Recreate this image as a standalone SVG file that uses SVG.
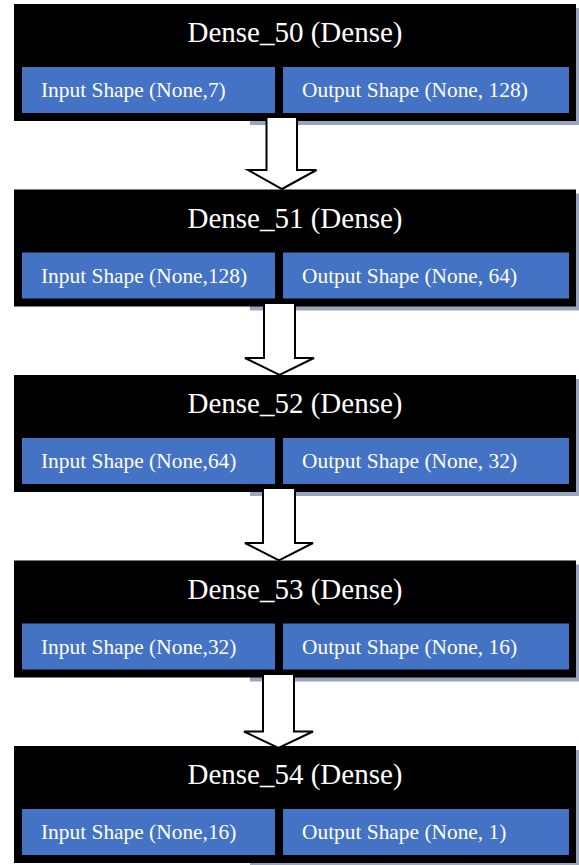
<svg xmlns="http://www.w3.org/2000/svg" width="579" height="865" viewBox="0 0 579 865">
<style>
.blk{fill:#000}
.shd{fill:#9aa4bb}
.box{fill:#4472c4}
.ttl{font-family:"Liberation Serif","Times New Roman",serif;font-size:29px;fill:#fff;text-anchor:middle}
.lbl{font-family:"Liberation Serif","Times New Roman",serif;font-size:21.4px;fill:#fff}
.arr{fill:#fff;stroke:#000;stroke-width:2;stroke-linejoin:miter}
</style>
<rect width="579" height="865" fill="#fff"/>
<g id="dense50">
<rect class="shd" x="250" y="8" width="329" height="117"/>
<rect class="blk" x="14" y="4" width="562" height="117"/>
<text class="ttl" x="295" y="42">Dense_50 (Dense)</text>
<rect class="box" x="22" y="67" width="253" height="46"/>
<rect class="box" x="283" y="67" width="286" height="46"/>
<text class="lbl" x="41" y="97">Input Shape (None,7)</text>
<text class="lbl" x="302" y="97">Output Shape (None, 128)</text>
</g>
<g id="dense51">
<rect class="shd" x="250" y="193.5" width="329" height="117"/>
<rect class="blk" x="14" y="189.5" width="562" height="117"/>
<text class="ttl" x="295" y="227.5">Dense_51 (Dense)</text>
<rect class="box" x="22" y="252.5" width="253" height="46"/>
<rect class="box" x="283" y="252.5" width="286" height="46"/>
<text class="lbl" x="41" y="282.5">Input Shape (None,128)</text>
<text class="lbl" x="302" y="282.5">Output Shape (None, 64)</text>
</g>
<g id="dense52">
<rect class="shd" x="250" y="379" width="329" height="117"/>
<rect class="blk" x="14" y="375" width="562" height="117"/>
<text class="ttl" x="295" y="413">Dense_52 (Dense)</text>
<rect class="box" x="22" y="438" width="253" height="46"/>
<rect class="box" x="283" y="438" width="286" height="46"/>
<text class="lbl" x="41" y="468">Input Shape (None,64)</text>
<text class="lbl" x="302" y="468">Output Shape (None, 32)</text>
</g>
<g id="dense53">
<rect class="shd" x="250" y="564.5" width="329" height="117"/>
<rect class="blk" x="14" y="560.5" width="562" height="117"/>
<text class="ttl" x="295" y="598.5">Dense_53 (Dense)</text>
<rect class="box" x="22" y="623.5" width="253" height="46"/>
<rect class="box" x="283" y="623.5" width="286" height="46"/>
<text class="lbl" x="41" y="653.5">Input Shape (None,32)</text>
<text class="lbl" x="302" y="653.5">Output Shape (None, 16)</text>
</g>
<g id="dense54">
<rect class="shd" x="250" y="750" width="329" height="117"/>
<rect class="blk" x="14" y="746" width="562" height="117"/>
<text class="ttl" x="295" y="784">Dense_54 (Dense)</text>
<rect class="box" x="22" y="809" width="253" height="46"/>
<rect class="box" x="283" y="809" width="286" height="46"/>
<text class="lbl" x="41" y="839">Input Shape (None,16)</text>
<text class="lbl" x="302" y="839">Output Shape (None, 1)</text>
</g>
<g id="connectors">
<polygon class="arr" points="266.5,117 297,117 297,170 316.5,170 282,189 248,170 266.5,170"/>
<polygon class="arr" points="264,303 295,303 295,358 314,358 279.5,375 245,358 264,358"/>
<polygon class="arr" points="263,488 295,488 295,543 313,543 279,560.5 245,543 263,543"/>
<polygon class="arr" points="263,674 294,674 294,731.5 313,731.5 278.5,748 244,731.5 263,731.5"/>
</g>
</svg>
